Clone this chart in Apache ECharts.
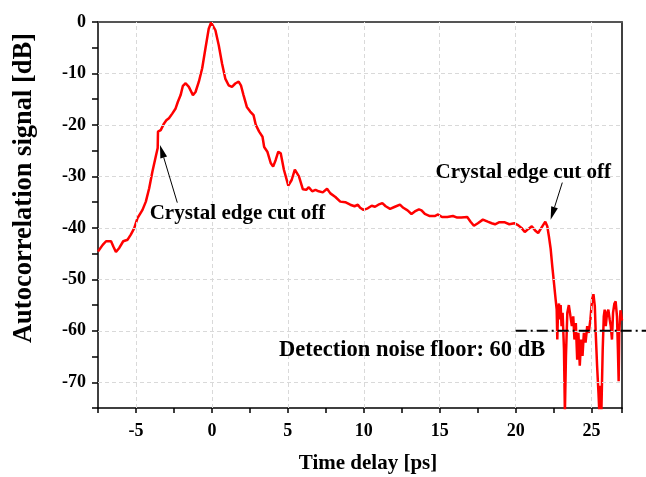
<!DOCTYPE html>
<html>
<head>
<meta charset="utf-8">
<script src="https://cdn.jsdelivr.net/npm/echarts@6/dist/echarts.min.js"></script>
<style>
  html, body { margin: 0; padding: 0; background: #fff; }
  #chart { width: 646px; height: 477px; }
</style>
</head>
<body>
<div id="chart"></div>
<script>
// Autocorrelation trace: time delay (ps) and signal level (dB)
const delayPs = [
  -7.5, -7.45, -7.19, -6.97, -6.64, -6.49, -6.32, -6.1, -5.84, -5.55,
  -5.34, -5.12, -4.9, -4.57, -4.35, -4.13, -3.92, -3.7, -3.57, -3.55,
  -3.37, -3.15, -3.0, -2.83, -2.61, -2.39, -2.24, -2.06, -1.91, -1.73,
  -1.52, -1.25, -1.08, -0.86, -0.64, -0.43, -0.21, -0.05, 0.05, 0.23,
  0.45, 0.67, 0.88, 1.1, 1.32, 1.54, 1.76, 1.91, 2.08, 2.3,
  2.52, 2.74, 2.89, 3.11, 3.33, 3.44, 3.65, 3.87, 4.03, 4.2,
  4.37, 4.53, 4.74, 5.03, 5.25, 5.46, 5.73, 5.99, 6.21, 6.38,
  6.6, 6.82, 7.03, 7.3, 7.58, 7.8, 8.13, 8.45, 8.78, 9.11,
  9.39, 9.61, 9.76, 9.98, 10.26, 10.52, 10.74, 10.96, 11.22, 11.44,
  11.73, 12.05, 12.38, 12.6, 12.88, 13.14, 13.36, 13.63, 13.8, 14.02,
  14.34, 14.67, 14.89, 15.15, 15.5, 15.87, 16.15, 16.42, 16.81, 17.03,
  17.25, 17.51, 17.84, 18.16, 18.42, 18.64, 18.93, 19.25, 19.58, 19.91,
  20.12, 20.38, 20.6, 20.84, 21.06, 21.28, 21.48, 21.69, 21.95, 22.08,
  22.19, 22.3, 22.41, 22.52, 22.63, 22.7, 22.74, 22.79, 22.85, 22.92,
  22.96, 23.02, 23.09, 23.18, 23.24, 23.31, 23.4, 23.5, 23.61, 23.7,
  23.79, 23.87, 23.96, 24.05, 24.13, 24.22, 24.31, 24.4, 24.49, 24.6,
  24.71, 24.81, 24.92, 25.03, 25.12, 25.21, 25.27, 25.36, 25.45, 25.51,
  25.58, 25.64, 25.73, 25.8, 25.86, 25.93, 26.02, 26.1, 26.19, 26.26,
  26.34, 26.41, 26.5, 26.58, 26.67, 26.73, 26.78, 26.82, 26.9, 27.0
];
const signalDb = [
  -44.6, -44.4, -43.3, -42.6, -42.6, -43.6, -44.7, -43.9, -42.6, -42.3,
  -41.3, -40.1, -38.1, -36.5, -34.9, -32.3, -29.1, -26.2, -24.5, -21.3,
  -21.0, -19.7, -19.1, -18.7, -17.8, -16.8, -15.5, -14.2, -12.4, -11.9,
  -12.6, -14.2, -13.6, -11.6, -9.0, -5.2, -1.3, -0.1, -0.1, -1.6,
  -4.5, -8.1, -11.0, -12.3, -12.6, -11.95, -11.6, -12.3, -14.2, -16.5,
  -17.4, -18.1, -20.0, -21.3, -22.3, -24.3, -25.2, -27.4, -28.1, -26.8,
  -25.2, -25.5, -28.7, -31.8, -30.7, -28.7, -30.0, -32.5, -32.6, -32.1,
  -32.9, -32.6, -32.9, -33.1, -32.4, -33.3, -34.0, -34.9, -35.0, -35.5,
  -35.8, -35.5, -36.1, -36.5, -36.2, -35.7, -35.9, -35.5, -35.2, -35.8,
  -36.3, -35.9, -35.5, -36.1, -36.6, -37.3, -36.8, -36.4, -36.6, -37.3,
  -37.7, -37.7, -37.4, -37.9, -37.9, -37.7, -38.0, -38.0, -37.9, -38.8,
  -39.6, -39.1, -38.4, -38.8, -39.1, -39.3, -38.9, -38.9, -39.3, -39.1,
  -39.4, -40.0, -40.8, -40.2, -39.7, -40.5, -41.0, -40.0, -38.8, -39.7,
  -41.7, -44.0, -47.5, -50.7, -53.9, -55.9, -61.7, -55.9, -54.7, -57.8,
  -55.0, -59.1, -56.5, -63.6, -76.0, -64.9, -56.5, -55.0, -55.2, -59.1,
  -57.2, -61.7, -58.5, -65.6, -60.4, -66.8, -61.7, -64.9, -60.4, -62.3,
  -59.1, -60.4, -57.8, -53.9, -52.9, -55.2, -60.4, -66.8, -72.0, -76.0,
  -70.7, -76.0, -63.6, -57.2, -55.9, -59.1, -56.5, -55.9, -57.8, -59.1,
  -61.7, -56.5, -54.7, -54.3, -57.2, -63.6, -69.8, -60.4, -56.0, -58.0
];

// Labelled tick positions (grid lines are drawn at these)
const xTickLabels = [-5, 0, 5, 10, 15, 20, 25];
const yTickLabels = [0, -10, -20, -30, -40, -50, -60, -70];

// Annotations in data units
const noiseFloorDb = -60;
const noiseFloorStart = 20.0;
const cutoffArrows = [
  { from: [-2.28, -35.1], to: [-3.42, -23.9] },
  { from: [23.07, -31.2], to: [22.3, -38.4] }
];
const notes = [
  { text: 'Crystal edge cut off', at: [-4.1, -37.3], align: 'left', size: 21 },
  { text: 'Crystal edge cut off', at: [20.5, -29.2], align: 'center', size: 21 },
  { text: 'Detection noise floor: 60 dB', at: [4.42, -63.8], align: 'left', size: 22.5 }
];

const serif = '"Liberation Serif", "Times New Roman", serif';
const chart = echarts.init(document.getElementById('chart'), null, { renderer: 'canvas' });

const trace = delayPs.map((x, i) => [x, signalDb[i]]);
const gridLines = [
  ...xTickLabels.map(v => ({ xAxis: v })),
  ...yTickLabels.filter(v => v !== 0).map(v => ({ yAxis: v }))
];

chart.setOption({
  animation: false,
  backgroundColor: '#fff',
  grid: { left: 98, right: 24, top: 22, bottom: 69, outerBoundsMode: 'none', containLabel: false },
  xAxis: [
    {
      type: 'value', min: -7.5, max: 27, interval: 2.5,
      axisLine: { onZero: false, lineStyle: { color: '#000', width: 1.5 } },
      axisTick: { length: 5, lineStyle: { color: '#000', width: 1.5 } },
      axisLabel: {
        formatter: v => (v % 5 === 0 ? String(v) : ''),
        fontFamily: serif, fontWeight: 'bold', fontSize: 18, color: '#000', margin: 14
      },
      splitLine: { show: false },
      name: 'Time delay [ps]', nameLocation: 'middle', nameGap: 45,
      nameTextStyle: {
        fontFamily: serif, fontWeight: 'bold', fontSize: 21, color: '#000',
        padding: [0, 0, 0, 16]
      }
    },
    {
      type: 'value', position: 'top', min: -7.5, max: 27,
      axisLine: { show: true, onZero: false, lineStyle: { color: '#555', width: 2 } },
      axisTick: { show: false }, axisLabel: { show: false }, splitLine: { show: false }
    }
  ],
  yAxis: [
    {
      type: 'value', min: -75, max: 0, interval: 5,
      axisLine: { show: true, onZero: false, lineStyle: { color: '#000', width: 1.5 } },
      axisTick: { show: true, length: 6, lineStyle: { color: '#000', width: 1.5 } },
      axisLabel: {
        formatter: v => (v % 10 === 0 ? String(v) : ''),
        fontFamily: serif, fontWeight: 'bold', fontSize: 18, color: '#000', margin: 12
      },
      splitLine: { show: false }
    },
    {
      type: 'value', position: 'right', min: -75, max: 0,
      axisLine: { show: true, onZero: false, lineStyle: { color: '#000', width: 1.5 } },
      axisTick: { show: false }, axisLabel: { show: false }, splitLine: { show: false }
    }
  ],
  series: [
    {
      // dashed reference grid at the labelled ticks
      type: 'line', data: [], z: 1, silent: true,
      markLine: {
        silent: true, symbol: 'none', label: { show: false },
        lineStyle: { type: [4, 3], color: '#d9d9d9', width: 1 },
        data: gridLines
      }
    },
    {
      type: 'line', data: trace, z: 3, showSymbol: false, smooth: false, clip: true,
      lineStyle: { color: '#ff0000', width: 2.5 }
    }
  ]
});

// Overlay annotations placed through the axis scales
function drawAnnotations() {
  const px = p => chart.convertToPixel({ gridIndex: 0 }, p);
  const elements = [];

  // noise floor line, running out past the right frame
  const a = px([noiseFloorStart, noiseFloorDb]);
  elements.push({
    type: 'line', z: 10,
    shape: { x1: a[0], y1: a[1], x2: chart.getWidth(), y2: a[1] },
    style: { stroke: '#000', lineWidth: 2, lineDash: [11, 4, 2, 4] }
  });

  cutoffArrows.forEach(arr => {
    const p0 = px(arr.from), p1 = px(arr.to);
    const dx = p1[0] - p0[0], dy = p1[1] - p0[1];
    const len = Math.hypot(dx, dy);
    const ux = dx / len, uy = dy / len;
    const headL = 13, headW = 3.5;
    const bx = p1[0] - ux * headL, by = p1[1] - uy * headL;
    elements.push({
      type: 'line', z: 10,
      shape: { x1: p0[0], y1: p0[1], x2: bx, y2: by },
      style: { stroke: '#000', lineWidth: 1 }
    });
    elements.push({
      type: 'polygon', z: 10,
      shape: { points: [[p1[0], p1[1]], [bx - uy * headW, by + ux * headW], [bx + uy * headW, by - ux * headW]] },
      style: { fill: '#000' }
    });
  });

  notes.forEach(n => {
    const p = px(n.at);
    elements.push({
      type: 'text', z: 11, x: p[0], y: p[1],
      style: {
        text: n.text, fill: '#000', font: 'bold ' + n.size + 'px ' + serif,
        align: n.align, verticalAlign: 'middle'
      }
    });
  });

  // vertical axis title
  elements.push({
    type: 'text', z: 11, x: 24, y: 188, rotation: Math.PI / 2,
    style: {
      text: 'Autocorrelation signal [dB]', fill: '#000', font: 'bold 26.5px ' + serif,
      align: 'center', verticalAlign: 'middle'
    }
  });

  chart.setOption({ graphic: elements });
}
drawAnnotations();
</script>
</body>
</html>
